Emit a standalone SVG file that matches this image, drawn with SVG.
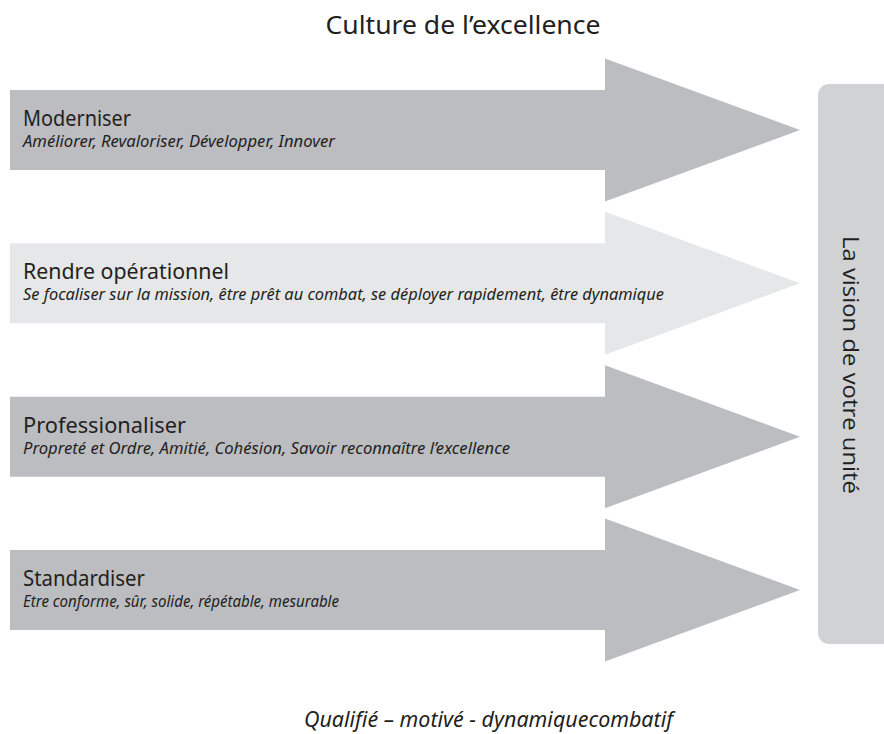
<svg xmlns="http://www.w3.org/2000/svg" width="884" height="734" viewBox="0 0 884 734">
  <style>
    .dark { fill: #bcbdc0; }
    .light { fill: #e6e7e8; }
    .head { font-family: "Noto Sans", "Liberation Sans", sans-serif; font-size: 21px; fill: #231f20; }
    .sub { font-family: "Noto Sans", "Liberation Sans", sans-serif; font-size: 15.5px; font-style: italic; fill: #231f20; }
    .title { font-family: "Noto Sans", "Liberation Sans", sans-serif; font-size: 26px; fill: #231f20; }
    .side { font-family: "Open Sans", "Liberation Sans", sans-serif; font-size: 22px; fill: #231f20; }
    .foot { font-family: "Noto Sans", "Liberation Sans", sans-serif; font-size: 22px; font-style: italic; fill: #231f20; }
  </style>
  <defs>
    <!-- block arrow, origin at left of shaft midline -->
    <path id="arrowShape" d="M10,-40 H605 V-71.5 L800,0 L605,71.5 V40 H10 Z"/>
  </defs>

  <text class="title" x="463" y="34" text-anchor="middle" textLength="275" lengthAdjust="spacingAndGlyphs">Culture de l’excellence</text>

  <g id="vision">
    <rect x="818" y="84" width="80" height="560" rx="11" fill="#d1d2d4"/>
    <text class="side" transform="translate(843,365) rotate(90)" text-anchor="middle" textLength="258" lengthAdjust="spacingAndGlyphs">La vision de votre unité</text>
  </g>

  <g id="moderniser">
    <use href="#arrowShape" class="dark" transform="translate(0,130)"/>
    <text class="head" x="23" y="126" textLength="108" lengthAdjust="spacingAndGlyphs">Moderniser</text>
    <text class="sub" x="23" y="147" textLength="312" lengthAdjust="spacingAndGlyphs">Améliorer, Revaloriser, Développer, Innover</text>
  </g>

  <g id="rendre-operationnel">
    <use href="#arrowShape" class="light" transform="translate(0,283.3)"/>
    <text class="head" x="23" y="279.3" textLength="206" lengthAdjust="spacingAndGlyphs">Rendre opérationnel</text>
    <text class="sub" x="23" y="300.3" textLength="641" lengthAdjust="spacingAndGlyphs">Se focaliser sur la mission, être prêt au combat, se déployer rapidement, être dynamique</text>
  </g>

  <g id="professionaliser">
    <use href="#arrowShape" class="dark" transform="translate(0,436.7)"/>
    <text class="head" x="23" y="432.7" textLength="163" lengthAdjust="spacingAndGlyphs">Professionaliser</text>
    <text class="sub" x="23" y="453.7" textLength="487" lengthAdjust="spacingAndGlyphs">Propreté et Ordre, Amitié, Cohésion, Savoir reconnaître l’excellence</text>
  </g>

  <g id="standardiser">
    <use href="#arrowShape" class="dark" transform="translate(0,590)"/>
    <text class="head" x="23" y="586" textLength="122" lengthAdjust="spacingAndGlyphs">Standardiser</text>
    <text class="sub" x="23" y="607" textLength="316" lengthAdjust="spacingAndGlyphs">Etre conforme, sûr, solide, répétable, mesurable</text>
  </g>

  <text class="foot" x="304" y="727" textLength="369" lengthAdjust="spacingAndGlyphs">Qualifié – motivé - dynamiquecombatif</text>
</svg>
